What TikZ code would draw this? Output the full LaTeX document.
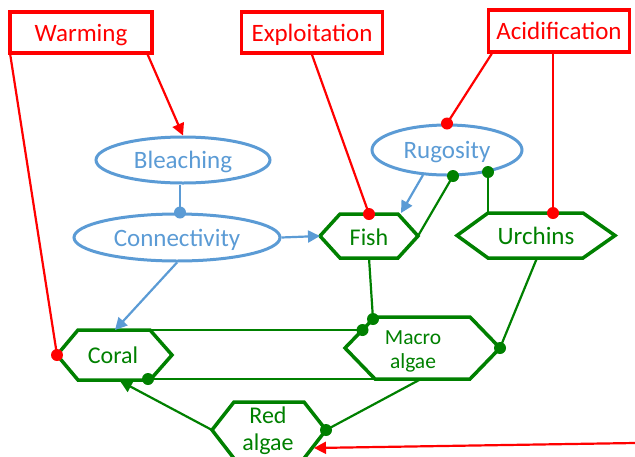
\documentclass[tikz,border=0pt]{standalone}
\usepackage{fontspec}
\setmainfont{Carlito}
\usetikzlibrary{arrows.meta,shapes.geometric}
\definecolor{cred}{RGB}{255,0,0}
\definecolor{cblue}{RGB}{91,155,213}
\definecolor{cgreen}{RGB}{0,128,0}
\newcommand\mydot[2]{\fill[#1] (#2) circle (6pt);}
\begin{document}
\begin{tikzpicture}[x=1pt,y=-1pt,
  bigfont/.style={font=\fontsize{25}{30}\selectfont},
  redbox/.style={draw=cred, line width=3.5pt, text=cred, inner sep=0pt, text depth=0pt, bigfont},
  blueell/.style={ellipse, draw=cblue, line width=3pt, text=cblue, inner sep=0pt, text depth=0pt, bigfont},
  hexline/.style={draw=cgreen, line width=3.5pt, line join=miter},
  hextext/.style={text=cgreen, align=center, inner sep=0pt},
  redcon/.style={draw=cred, line width=2.2pt},
  bluecon/.style={draw=cblue, line width=2.2pt},
  greencon/.style={draw=cgreen, line width=2.2pt},
  tip/.style={-{Triangle[length=12pt,width=12pt]}}
]
\useasboundingbox (0,0) rectangle (635,456);

% red driver boxes
\node[redbox, minimum width=142pt, minimum height=41pt] (warm) at (81,32.5) {Warming};
\node[redbox, minimum width=141pt, minimum height=41pt] (expl) at (312,32.5) {Exploitation};
\node[redbox, minimum width=141pt, minimum height=42pt] (acid) at (559,31) {Acidification};

% blue ellipses
\node[blueell, minimum width=174pt, minimum height=46pt] (blea) at (183,160) {Bleaching};
\node[blueell, minimum width=206pt, minimum height=47pt] (conn) at (177,237.5) {Connectivity};
\node[blueell, minimum width=150pt, minimum height=50pt] (rug) at (447,150) {Rugosity};

% hexagon vertices
\coordinate (fL) at (320,236); \coordinate (fTL) at (340,214); \coordinate (fTR) at (398,214);
\coordinate (fR) at (418,236); \coordinate (fBR) at (398,258); \coordinate (fBL) at (340,258);
\coordinate (uL) at (457,235.5); \coordinate (uTL) at (488,213); \coordinate (uTR) at (583,213);
\coordinate (uR) at (615,235.5); \coordinate (uBR) at (583,258); \coordinate (uBL) at (488,258);
\coordinate (cL) at (57,355); \coordinate (cTL) at (78,330); \coordinate (cTR) at (150,330);
\coordinate (cR) at (172,355); \coordinate (cBR) at (150,380); \coordinate (cBL) at (78,380);
\coordinate (mL) at (345,348); \coordinate (mTL) at (375,317); \coordinate (mTR) at (470,317);
\coordinate (mR) at (500,348); \coordinate (mBR) at (470,379); \coordinate (mBL) at (375,379);
\coordinate (rL) at (212,430); \coordinate (rTL) at (234,402); \coordinate (rTR) at (304,402);
\coordinate (rR) at (326,430); \coordinate (rBR) at (302,461); \coordinate (rBL) at (236,461);

% connector end points
\coordinate (fTop) at (369,214); \coordinate (fBot) at (369,258);
\coordinate (fTopB) at (401,213);
\coordinate (uTop) at (553,213); \coordinate (uBot) at (537,258);
\coordinate (cTopA) at (115,330); \coordinate (cBot) at (120,381);
\coordinate (cd) at (148,379);
\coordinate (md1) at (373,319); \coordinate (md2) at (362.5,330);
\coordinate (mBot) at (421,379);
\coordinate (rugBL) at (423,175);
\coordinate (rugd1) at (453,176); \coordinate (rugd2) at (488,172);
\coordinate (rArr) at (314,448); \coordinate (rightend) at (635,443);

% hexagons
\draw[hexline] (fL) -- (fTL) -- (fTR) -- (fR) -- (fBR) -- (fBL) -- cycle;
\draw[hexline] (uL) -- (uTL) -- (uTR) -- (uR) -- (uBR) -- (uBL) -- cycle;
\draw[hexline] (cL) -- (cTL) -- (cTR) -- (cR) -- (cBR) -- (cBL) -- cycle;
\draw[hexline] (mL) -- (mTL) -- (mTR) -- (mR) -- (mBR) -- (mBL) -- cycle;
\draw[hexline] (rL) -- (rTL) -- (rTR) -- (rR) -- (rBR) -- (rBL) -- cycle;

\node[hextext, font=\fontsize{24}{30}\selectfont] (fish) at (369,237) {Fish};
\node[hextext, bigfont] (urch) at (536,236) {Urchins};
\node[hextext, font=\fontsize{24}{30}\selectfont] (coral) at (113,355) {Coral};
\node[hextext, font=\fontsize{21.5}{24}\selectfont] (macro) at (413,351) {Macro\\algae};
\node[hextext, font=\fontsize{24}{27}\selectfont] (red) at (268,431) {Red\\algae};

% red connectors
\draw[redcon, tip] ([xshift=-6pt]warm.south east) -- (blea.north);
\draw[redcon] ([xshift=2pt]warm.south west) -- (cL); \mydot{cred}{cL}
\draw[redcon] (expl.south) -- (fTop); \mydot{cred}{fTop}
\draw[redcon] ([xshift=5pt]acid.south west) -- (rug.north); \mydot{cred}{rug.north}
\draw[redcon] ([xshift=-6pt]acid.south) -- (uTop); \mydot{cred}{uTop}
\draw[redcon, tip] (rightend) -- (rArr);

% blue connectors
\draw[bluecon] ([xshift=-3pt]blea.south) -- ([xshift=3pt]conn.north); \mydot{cblue}{[xshift=3pt]conn.north}
\draw[bluecon, tip] (conn.east) -- (fL);
\draw[bluecon, tip] (conn.south) -- (cTopA);
\draw[bluecon, tip] (rugBL) -- (fTopB);

% green connectors
\draw[greencon] (fR) -- (rugd1); \mydot{cgreen}{rugd1}
\draw[greencon] (uTL) -- (rugd2); \mydot{cgreen}{rugd2}
\draw[greencon] (fBot) -- (md1); \mydot{cgreen}{md1}
\draw[greencon] (cTR) -- (md2); \mydot{cgreen}{md2}
\draw[greencon] (mBL) -- (cd); \mydot{cgreen}{cd}
\draw[greencon] (uBot) -- (mR); \mydot{cgreen}{mR}
\draw[greencon] (mBot) -- (rR); \mydot{cgreen}{rR}
\draw[greencon, tip] (rL) -- (cBot);
\end{tikzpicture}
\end{document}
